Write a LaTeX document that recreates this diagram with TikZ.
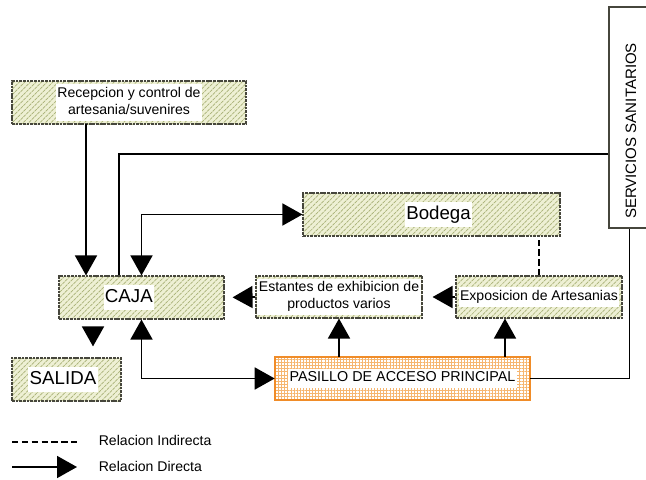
\documentclass[tikz,border=0pt]{standalone}
\usepackage{fontspec}
\setmainfont{Liberation Sans}
\usetikzlibrary{arrows.meta,patterns.meta}
\definecolor{hatchbg}{RGB}{238,240,212}
\definecolor{hatchln}{RGB}{168,176,118}
\definecolor{boxln}{RGB}{70,70,60}
\definecolor{pasilloln}{RGB}{240,140,40}
\definecolor{gridln}{RGB}{246,182,112}
\newcommand{\upx}{0.025cm}
\newcommand{\wbox}[1]{{\setlength{\fboxsep}{1pt}\colorbox{white}{\begin{tabular}{@{}c@{}}#1\end{tabular}}}}

\begin{document}
\begin{tikzpicture}[x=0.025cm, y=-0.025cm, line width=1.2pt,
		hatchbox/.style={draw=boxln, line width=0.8pt, dash pattern=on 2pt off 0.6pt, preaction={fill=hatchbg}, pattern={Lines[angle=45,distance=2.8pt,line width=0.5pt]}, pattern color=hatchln, minimum height=43*\upx, inner sep=1pt},
		gridbox/.style={draw=pasilloln, line width=2pt, preaction={fill=white}, pattern={Hatch[angle=0,distance=2.2pt,line width=0.4pt]}, pattern color=gridln, minimum height=43*\upx, inner sep=1pt},
		plainbox/.style={draw=boxln, line width=0.8pt, fill=white},
		arr/.style={-{Triangle[length=20*\upx,width=22*\upx]}},
		arr2/.style={{Triangle[length=20*\upx,width=22*\upx]}-{Triangle[length=20*\upx,width=22*\upx]}},
		dashln/.style={dash pattern=on 4.5pt off 2.5pt},
		big/.style={font=\fontsize{13.3}{16}\selectfont}]
		\useasboundingbox (0,0) rectangle (646,480);

		\begin{scope}[every node/.append style={font=\fontsize{10}{12}\selectfont}]
			\node[hatchbox, minimum width=234*\upx] (rec) at (129,102.5) {\wbox{Recepcion y control de\\artesania/suvenires}};
			\node[hatchbox, big, minimum width=257*\upx] (bodega) at (431.5,214.5) {\kern10pt\wbox{Bodega}};
			\node[hatchbox, big, minimum width=165*\upx] (caja) at (141.5,297.5) {\wbox{CAJA}\kern18pt};
			\node[hatchbox, minimum width=166*\upx, minimum height=42*\upx] (estantes) at (339,297) {\wbox{Estantes de exhibicion de\\productos varios}};
			\node[hatchbox, minimum width=166*\upx, minimum height=42*\upx] (expo) at (539,297) {\wbox{Exposicion de Artesanias}};
			\node[hatchbox, big, minimum width=109*\upx] (salida) at (66.5,379.5) {\wbox{SALIDA}\kern5pt};
			\node[gridbox, minimum width=255*\upx] (pasillo) at (402.5,378.5) {\wbox{\fontsize{10.2}{12}\selectfont PASILLO DE ACCESO PRINCIPAL}};
			\node[plainbox, minimum width=41*\upx, minimum height=221*\upx] (serv) at (629.5,117.5) {};
			\node[rotate=90, font=\fontsize{10.7}{13}\selectfont] (servtxt) at (631,131) {SERVICIOS SANITARIOS};
			\node[anchor=west, inner sep=0pt] (ind) at (98,440) {Relacion Indirecta};
			\node[anchor=west, inner sep=0pt] (dir) at (98,466) {Relacion Directa};
		\end{scope}
		\coordinate (i0) at (12,442);
		\coordinate (i1) at (77,442);
		\coordinate (d0) at (12,467);
		\coordinate (d1) at (77,467);

		\draw[arr] ([xshift=-43*\upx]rec.south) -- ([xshift=-43*\upx]rec.south |- caja.north);
		\draw ([yshift=-36.5*\upx]serv.west) -| ([xshift=-22.5*\upx]caja.north);
		\draw[arr2] (caja.north) |- (bodega.west);
		\draw[arr, shorten <=9*\upx, shorten >=11*\upx] ([xshift=-48.5*\upx]caja.south) -- ([xshift=-48.5*\upx]caja.south |- salida.north);
		\draw[arr2] (caja.south) |- (pasillo.west);
		\draw[arr, shorten >=8*\upx] (estantes.west) -- (caja.east);
		\draw[arr, shorten >=10*\upx] (expo.west) -- (estantes.east);
		\draw[arr] (pasillo.north -| estantes.south) -- (estantes.south);
		\draw[arr] ([xshift=-34*\upx]expo.south |- pasillo.north) -- ([xshift=-34*\upx]expo.south);
		\draw (pasillo.east) -| (serv.south);
		\draw[dashln] (expo.north) -- (expo.north |- bodega.south);

		\draw[dashln] (i0) -- (i1);
		\draw[arr] (d0) -- (d1);
	\end{tikzpicture}
\end{document}
